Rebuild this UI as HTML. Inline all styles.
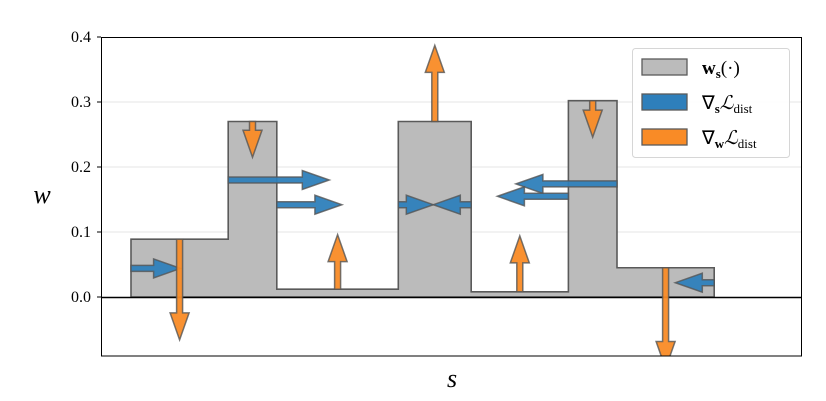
<!DOCTYPE html>
<html><head><meta charset="utf-8"><style>
body{margin:0;background:#fff;}
svg{display:block;font-family:"Liberation Serif",serif;}
</style></head><body>
<svg id="chart" width="826" height="401" viewBox="0 0 826 401" xmlns="http://www.w3.org/2000/svg">
<defs><clipPath id="plotclip"><rect x="101" y="37" width="700" height="319"/></clipPath></defs>
<rect x="0" y="0" width="826" height="401" fill="#fff"/>
<g id="grid"></g>
<g id="yticks"></g>
<g clip-path="url(#plotclip)">
<path id="bars" fill="#bbbbbb" stroke="#5a5a5a" stroke-width="1.6"/>
<line x1="101" x2="801" y1="297.5" y2="297.5" stroke="#000" stroke-width="1.4"/>
<g id="arrows"></g>
</g>
<rect x="101.5" y="37.5" width="700" height="318.5" fill="none" stroke="#000" stroke-width="1"/>
<text x="42" y="203" font-size="26" font-style="italic" text-anchor="middle">w</text>
<text x="452" y="387" font-size="26" font-style="italic" text-anchor="middle">s</text>
<g>
<rect x="632.5" y="48.5" width="157" height="109" rx="3" fill="#fff" fill-opacity="0.85" stroke="#d6d6d6"/>
<rect x="642" y="59" width="45" height="16" fill="#bbbbbb" stroke="#5a5a5a" stroke-width="1.3"/>
<rect x="642" y="94" width="45" height="16" fill="#2e7fbb" stroke="#5a5a5a" stroke-width="1.3"/>
<rect x="642" y="129" width="45" height="16" fill="#f98b26" stroke="#5a5a5a" stroke-width="1.3"/>
<text x="702" y="74" font-size="19"><tspan font-weight="bold">w</tspan><tspan font-size="13" font-weight="bold" dy="4">s</tspan><tspan dy="-4">(·)</tspan></text>
<text x="702" y="109" font-size="19">∇<tspan font-size="13" font-weight="bold" dy="4">s</tspan><tspan dy="-4" font-style="italic">ℒ</tspan><tspan font-size="13" dy="4">dist</tspan></text>
<text x="702" y="144" font-size="19">∇<tspan font-size="13" font-weight="bold" dy="4">w</tspan><tspan dy="-4" font-style="italic">ℒ</tspan><tspan font-size="13" dy="4">dist</tspan></text>
</g>
</svg>
<script>
const edges = [0, 1, 1.5, 2.75, 3.5, 4.5, 5, 6];
const heights = [0.089, 0.270, 0.012, 0.270, 0.008, 0.302, 0.045];
const yTicks = [0.0, 0.1, 0.2, 0.3, 0.4];
const yTickLabels = ["0.0", "0.1", "0.2", "0.3", "0.4"];
// orange: gradient wrt w (vertical)
const gwS = [0.5, 1.25, 2.125, 3.125, 4.0, 4.75, 5.5];
const gwFrom = [0.089, 0.270, 0.012, 0.270, 0.008, 0.302, 0.045];
const gwTo = [-0.066, 0.215, 0.096, 0.387, 0.094, 0.246, -0.110];
// blue: gradient wrt s (horizontal)
const gsW = [0.044, 0.180, 0.142, 0.142, 0.142, 0.174, 0.155, 0.022];
const gsFrom = [0, 1, 1.5, 2.75, 3.5, 5, 4.5, 6];
const gsTo = [0.51, 2.04, 2.17, 3.11, 3.11, 3.96, 3.77, 5.6];

const xs = s => 131 + s * 97.2;
const ys = w => 297 - w * 650;
const NS = "http://www.w3.org/2000/svg";

const grid = document.getElementById('grid');
const yt = document.getElementById('yticks');
yTicks.forEach((t, i) => {
  const y = ys(t);
  if (t > 0 && t < 0.4) {
    const l = document.createElementNS(NS, 'line');
    
    
    l.setAttribute('x1', 101); l.setAttribute('x2', 801);
    l.setAttribute('y1', y); l.setAttribute('y2', y);
    l.setAttribute('stroke', '#e6e6e6'); l.setAttribute('stroke-width', '1');
    grid.appendChild(l);
  }
  const tk = document.createElementNS(NS, 'line');
  
  
  tk.setAttribute('x1', 97); tk.setAttribute('x2', 101);
  tk.setAttribute('y1', y); tk.setAttribute('y2', y);
  tk.setAttribute('stroke', '#000');
  yt.appendChild(tk);
  const tx = document.createElementNS(NS, 'text');
  
  
  tx.setAttribute('x', 91); tx.setAttribute('y', y + 5);
  tx.setAttribute('text-anchor', 'end'); tx.setAttribute('font-size', '16');
  tx.textContent = yTickLabels[i];
  yt.appendChild(tx);
});

let d = 'M' + xs(edges[0]) + ' ' + ys(0);
heights.forEach((h, i) => {
  d += ' L' + xs(edges[i]) + ' ' + ys(h) + ' L' + xs(edges[i + 1]) + ' ' + ys(h);
});
d += ' L' + xs(edges[edges.length - 1]) + ' ' + ys(0) + ' Z';
document.getElementById('bars').setAttribute('d', d);

const arrows = document.getElementById('arrows');
function arrow(x1, y1, x2, y2, color, name) {
  const dx = x2 - x1, dy = y2 - y1, L = Math.hypot(dx, dy);
  const ux = dx / L, uy = dy / L, px = -uy, py = ux;
  const hl = Math.min(27, L), sw = 3, hw = 9.5;
  const bx = x2 - ux * hl, by = y2 - uy * hl;
  const pts = [
    [x1 + px * sw, y1 + py * sw], [bx + px * sw, by + py * sw], [bx + px * hw, by + py * hw],
    [x2, y2], [bx - px * hw, by - py * hw], [bx - px * sw, by - py * sw], [x1 - px * sw, y1 - py * sw]
  ];
  const p = document.createElementNS(NS, 'polygon');
  
  
  p.setAttribute('points', pts.map(q => q[0].toFixed(1) + ',' + q[1].toFixed(1)).join(' '));
  p.setAttribute('fill', color);
  p.setAttribute('fill-opacity', '0.95');
  p.setAttribute('stroke', '#555');
  p.setAttribute('stroke-opacity', '0.8');
  p.setAttribute('stroke-width', '1.5');
  arrows.appendChild(p);
}
gsW.forEach((w, i) => arrow(xs(gsFrom[i]), ys(w), xs(gsTo[i]), ys(w), '#2e7fbb', 'grad-s-arrow'));
gwS.forEach((s, i) => arrow(xs(s), ys(gwFrom[i]), xs(s), ys(gwTo[i]), '#f98b26', 'grad-w-arrow'));
</script>
</body></html>
